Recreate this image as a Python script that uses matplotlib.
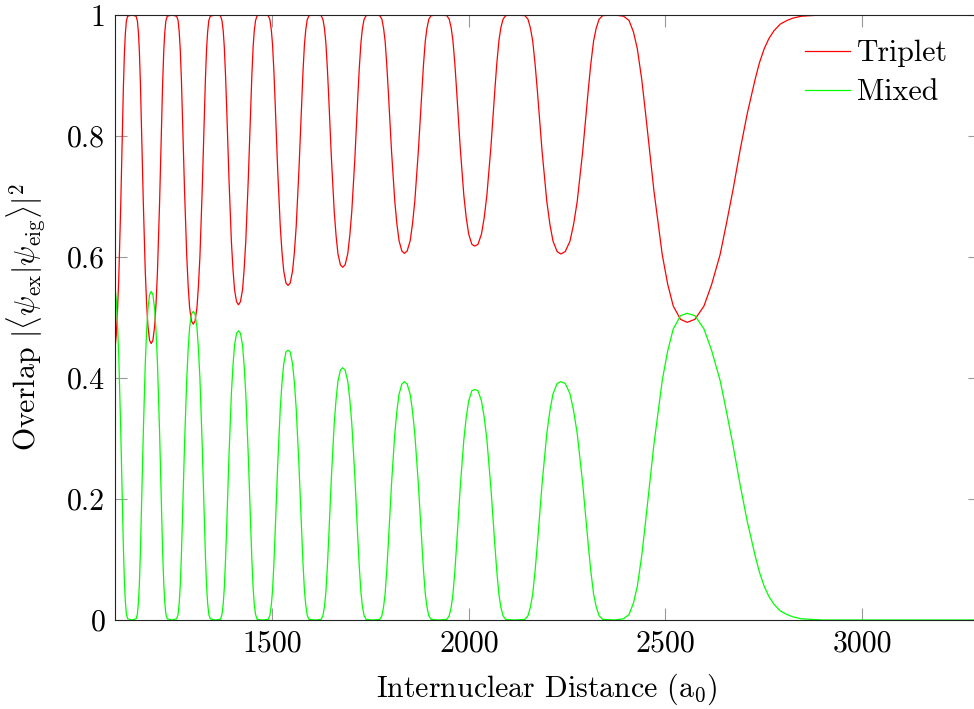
import matplotlib
matplotlib.use("Agg")
import matplotlib.pyplot as plt

# values, one row per oscillation (left flank, right flank, top)
distance = [
    1100.0, 1103.1, 1106.3, 1109.5, 1114.4, 1119.2, 1121.4, 1124.0, 1126.3, 1128.9, 1132.1, 1142.7,
    1153.7, 1157.0, 1159.7, 1162.0, 1164.7, 1167.0, 1172.0, 1177.0, 1180.3, 1183.7, 1188.0, 1192.0,
    1196.3, 1200.9, 1204.5, 1208.0, 1213.4, 1218.7, 1221.1, 1224.0, 1226.5, 1229.3, 1232.9, 1244.6,
    1256.7, 1260.4, 1263.3, 1265.9, 1268.9, 1271.4, 1276.9, 1282.5, 1286.1, 1289.8, 1294.6, 1299.0,
    1303.5, 1308.4, 1312.2, 1316.0, 1321.7, 1327.3, 1329.9, 1332.9, 1335.6, 1338.6, 1342.4, 1354.8,
    1368.0, 1372.0, 1375.2, 1378.0, 1381.2, 1384.0, 1390.0, 1396.0, 1400.0, 1404.0, 1409.2, 1414.0,
    1419.0, 1424.4, 1428.5, 1432.6, 1438.9, 1445.1, 1448.0, 1451.3, 1454.2, 1457.5, 1461.6, 1475.3,
    1489.7, 1494.1, 1497.6, 1500.7, 1504.2, 1507.2, 1513.7, 1520.3, 1524.7, 1529.1, 1534.8, 1540.0,
    1545.6, 1551.6, 1556.3, 1560.9, 1567.9, 1574.8, 1578.1, 1581.8, 1585.1, 1588.8, 1593.4, 1608.7,
    1624.4, 1629.1, 1632.9, 1636.3, 1640.1, 1643.4, 1650.5, 1657.6, 1662.3, 1667.1, 1673.3, 1679.0,
    1685.2, 1691.9, 1697.1, 1702.2, 1710.0, 1717.7, 1721.3, 1725.5, 1729.1, 1733.2, 1738.4, 1755.4,
    1773.4, 1778.8, 1783.1, 1787.0, 1791.3, 1795.1, 1803.3, 1811.5, 1816.9, 1822.4, 1829.5, 1836.0,
    1843.1, 1850.8, 1856.7, 1862.6, 1871.5, 1880.4, 1884.5, 1889.2, 1893.4, 1898.1, 1904.0, 1923.5,
    1943.9, 1950.0, 1955.0, 1959.4, 1964.3, 1968.6, 1977.9, 1987.2, 1993.3, 1999.5, 2007.6, 2015.0,
    2023.2, 2032.1, 2039.0, 2045.8, 2056.1, 2066.3, 2071.1, 2076.5, 2081.4, 2086.9, 2093.6, 2116.2,
    2142.5, 2150.4, 2156.7, 2162.4, 2168.7, 2174.3, 2186.2, 2198.2, 2206.1, 2214.1, 2224.5, 2234.0,
    2245.1, 2257.1, 2266.4, 2275.6, 2289.6, 2303.4, 2309.8, 2317.2, 2323.8, 2331.2, 2340.4, 2370.9,
    2393.4, 2407.3, 2418.6, 2428.5, 2439.8, 2449.5, 2470.6, 2491.8, 2505.7, 2519.8, 2538.2, 2555.0,
    2575.0, 2598.0, 2617.6, 2639.0, 2655.0, 2671.5, 2690.0, 2708.0, 2727.8, 2739.0, 2751.0, 2763.0,
    2776.0, 2792.0, 2809.0, 2825.0, 2846.0, 2870.0, 2900.0, 3300.0,
]

triplet = [
    0.449, 0.470, 0.509, 0.563, 0.681, 0.821, 0.882, 0.938, 0.969, 0.990, 0.998, 1.000,
    0.998, 0.990, 0.970, 0.940, 0.886, 0.826, 0.690, 0.576, 0.524, 0.486, 0.462, 0.457,
    0.462, 0.486, 0.524, 0.576, 0.690, 0.826, 0.886, 0.940, 0.970, 0.990, 0.998, 1.000,
    0.998, 0.991, 0.972, 0.944, 0.893, 0.836, 0.709, 0.601, 0.552, 0.516, 0.494, 0.489,
    0.494, 0.516, 0.552, 0.601, 0.709, 0.836, 0.893, 0.944, 0.972, 0.991, 0.998, 1.000,
    0.999, 0.991, 0.974, 0.947, 0.899, 0.847, 0.727, 0.626, 0.580, 0.546, 0.526, 0.521,
    0.526, 0.546, 0.580, 0.626, 0.727, 0.847, 0.899, 0.947, 0.974, 0.991, 0.999, 1.000,
    0.999, 0.992, 0.975, 0.951, 0.906, 0.857, 0.745, 0.651, 0.608, 0.577, 0.557, 0.553,
    0.557, 0.577, 0.608, 0.651, 0.745, 0.857, 0.906, 0.951, 0.975, 0.992, 0.999, 1.000,
    0.999, 0.992, 0.977, 0.954, 0.912, 0.867, 0.762, 0.675, 0.635, 0.605, 0.587, 0.583,
    0.587, 0.605, 0.635, 0.675, 0.762, 0.867, 0.912, 0.954, 0.977, 0.992, 0.999, 1.000,
    0.999, 0.993, 0.978, 0.957, 0.917, 0.874, 0.775, 0.693, 0.655, 0.627, 0.610, 0.606,
    0.610, 0.627, 0.655, 0.693, 0.775, 0.874, 0.917, 0.957, 0.978, 0.993, 0.999, 1.000,
    0.999, 0.993, 0.979, 0.958, 0.920, 0.878, 0.782, 0.702, 0.665, 0.638, 0.621, 0.618,
    0.621, 0.638, 0.665, 0.702, 0.782, 0.878, 0.920, 0.958, 0.979, 0.993, 0.999, 1.000,
    0.999, 0.993, 0.978, 0.957, 0.917, 0.874, 0.775, 0.692, 0.654, 0.626, 0.609, 0.605,
    0.609, 0.626, 0.654, 0.692, 0.775, 0.874, 0.917, 0.957, 0.978, 0.993, 0.999, 1.000,
    0.998, 0.991, 0.972, 0.944, 0.893, 0.837, 0.710, 0.604, 0.555, 0.519, 0.497, 0.492,
    0.497, 0.519, 0.555, 0.604, 0.655, 0.710, 0.777, 0.837, 0.893, 0.921, 0.944, 0.961,
    0.974, 0.985, 0.991, 0.995, 0.998, 0.999, 1.000, 1.000,
]

mixed = [
    0.551, 0.530, 0.491, 0.437, 0.319, 0.179, 0.118, 0.062, 0.031, 0.010, 0.002, 0.000,
    0.002, 0.010, 0.030, 0.060, 0.114, 0.174, 0.310, 0.424, 0.476, 0.514, 0.538, 0.543,
    0.538, 0.514, 0.476, 0.424, 0.310, 0.174, 0.114, 0.060, 0.030, 0.010, 0.002, 0.000,
    0.002, 0.009, 0.028, 0.056, 0.107, 0.164, 0.291, 0.399, 0.448, 0.484, 0.506, 0.510,
    0.506, 0.484, 0.448, 0.399, 0.291, 0.164, 0.107, 0.056, 0.028, 0.009, 0.002, 0.000,
    0.001, 0.009, 0.026, 0.053, 0.101, 0.153, 0.273, 0.374, 0.420, 0.454, 0.474, 0.478,
    0.474, 0.454, 0.420, 0.374, 0.273, 0.153, 0.101, 0.053, 0.026, 0.009, 0.001, 0.000,
    0.001, 0.008, 0.025, 0.049, 0.094, 0.143, 0.255, 0.349, 0.392, 0.423, 0.443, 0.446,
    0.443, 0.423, 0.392, 0.349, 0.255, 0.143, 0.094, 0.049, 0.025, 0.008, 0.001, 0.000,
    0.001, 0.008, 0.023, 0.046, 0.088, 0.133, 0.238, 0.325, 0.365, 0.395, 0.413, 0.417,
    0.413, 0.395, 0.365, 0.325, 0.238, 0.133, 0.088, 0.046, 0.023, 0.008, 0.001, 0.000,
    0.001, 0.007, 0.022, 0.043, 0.083, 0.126, 0.225, 0.307, 0.345, 0.373, 0.390, 0.394,
    0.390, 0.373, 0.345, 0.307, 0.225, 0.126, 0.083, 0.043, 0.022, 0.007, 0.001, 0.000,
    0.001, 0.007, 0.021, 0.042, 0.080, 0.122, 0.218, 0.298, 0.335, 0.362, 0.379, 0.381,
    0.379, 0.362, 0.335, 0.298, 0.218, 0.122, 0.080, 0.042, 0.021, 0.007, 0.001, 0.000,
    0.001, 0.007, 0.022, 0.043, 0.083, 0.126, 0.225, 0.308, 0.346, 0.374, 0.391, 0.394,
    0.391, 0.374, 0.346, 0.308, 0.225, 0.126, 0.083, 0.043, 0.022, 0.007, 0.001, 0.000,
    0.002, 0.009, 0.028, 0.056, 0.107, 0.163, 0.290, 0.396, 0.445, 0.481, 0.503, 0.507,
    0.503, 0.481, 0.445, 0.396, 0.345, 0.290, 0.223, 0.163, 0.107, 0.079, 0.056, 0.039,
    0.026, 0.015, 0.009, 0.005, 0.002, 0.001, 0.000, 0.000,
]

assert len(distance) == len(triplet) == len(mixed)

x_ticks = [1500, 2000, 2500, 3000]
y_ticks = [0, 0.2, 0.4, 0.6, 0.8, 1]
y_tick_labels = ["0", "0.2", "0.4", "0.6", "0.8", "1"]

plt.rcParams["font.family"] = "serif"
plt.rcParams["font.serif"] = ["cmr10"]
plt.rcParams["mathtext.fontset"] = "cm"
plt.rcParams["axes.formatter.use_mathtext"] = True
fs = 21.5

fig = plt.figure(figsize=(9.74, 7.09), dpi=100)
# right spine sits just past the figure edge, as in the cropped reference
ax = fig.add_axes([115 / 974, 89 / 709, 865 / 974, 605 / 709])

ax.plot(distance, triplet, color="#ff0000", lw=0.9, label="Triplet")
ax.plot(distance, mixed, color="#00ff00", lw=0.9, label="Mixed")

ax.set_xlim(1100, 3300)
ax.set_ylim(0, 1)
ax.set_xticks(x_ticks)
ax.set_xticklabels([str(t) for t in x_ticks])
ax.set_yticks(y_ticks)
ax.set_yticklabels(y_tick_labels)
ax.tick_params(direction="in", top=True, right=True, length=8.4, width=0.8,
               color="#999999", labelsize=fs)
ax.tick_params(axis="x", pad=7)
ax.tick_params(axis="y", pad=7)
for s in ax.spines.values():
    s.set_linewidth(0.8)
    s.set_color("#222222")

ax.set_xlabel(r"Internuclear Distance (a$_0$)", fontsize=fs)
ax.set_ylabel(r"Overlap $|\langle\psi_{\rm ex}|\psi_{\rm eig}\rangle|^2$", fontsize=fs)
ax.xaxis.set_label_coords((547 - 115) / 865, -0.085)
ax.yaxis.set_label_coords(-0.079, 0.5)

ax.legend(loc="upper left", bbox_to_anchor=(805 / 974, 1 - 40 / 709),
          bbox_transform=fig.transFigure, frameon=False, fontsize=fs,
          borderpad=0, borderaxespad=0, handlelength=1.5, handletextpad=0.25,
          labelspacing=0.38)

fig.savefig("out.png", dpi=100)
